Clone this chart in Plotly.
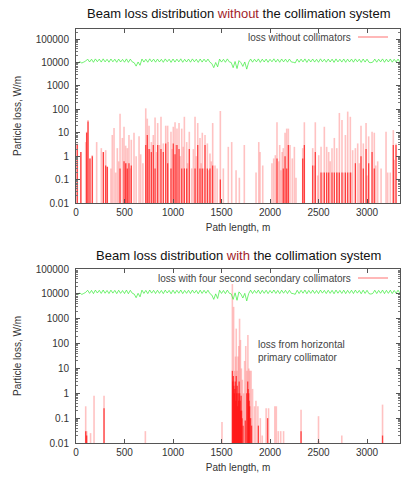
import plotly.graph_objects as go

W, H = 401, 479

# ---------------- data ----------------
green_x = list(range(0, 3341, 20))
green_y = [
    10000, 9200, 10800, 9500, 10400, 11500,
    14000, 10500, 13800, 10200, 14200, 10800, 13900, 10400, 14300, 10600, 13700, 10300,
    14100, 10700, 13800, 10200, 14000, 10500, 13600, 10300, 14200, 10100, 13900, 10600,
    9800, 7000, 10500, 7600,
    14100, 10400, 13800, 10200, 14300, 10700, 13900, 10300, 14000, 10500, 13700, 10200,
    14200, 10800, 13800, 10100, 14100, 10400, 13900, 10600, 14300, 10200, 13700, 10500,
    14000, 10300, 14200, 10700, 13800, 10100, 14100, 10400, 13900, 10600, 14000, 10300,
    9000, 6000, 10000, 6500,
    14000, 10400, 13700, 10200, 14200, 10600,
    10000, 6000, 11000, 5500, 12000, 9800, 6800, 10500, 5200, 10200,
    14100, 10300, 13800, 10600, 14200, 10100, 13900, 10500, 14000, 10200, 13700, 10700,
    14300, 10400, 13800, 10200, 14100, 10600, 13900, 10300, 14000, 10500,
    10200, 9600,
    14000, 10300, 13900, 10600, 14200, 10100, 13800, 10500, 14100, 10400, 13700, 10200,
    14300, 10700, 13800, 10300, 14000, 10500, 13900, 10100, 14200, 10600, 13800, 10400,
    14100, 10200, 13900, 10500, 14000, 10300, 14200, 10700, 13800, 10100, 14100, 10400, 13900,
    10200, 9800, 10400,
    14000, 10300, 13800, 10600, 14200, 10200, 13900, 10500, 14100, 10300, 13700, 10600, 14000, 10400,
]

# loss without collimators (top panel) - light (full height) impulses
top_x = [13, 50, 100, 110, 124, 144, 168, 213, 261, 282, 306, 323, 374, 392, 409, 426, 454, 478,
         495, 512, 529, 546, 570, 598, 650, 667, 719, 735, 753, 777, 797, 815, 842, 876, 900,
         925, 945, 979, 1003, 1021, 1041, 1062, 1090, 1117, 1141, 1168, 1193, 1227, 1255, 1278,
         1302, 1330, 1354, 1381, 1409, 1433, 1488, 1519, 1570, 1605, 1650, 1684, 1735, 1856,
         1884, 1897, 1925, 2038, 2055, 2072, 2090, 2113, 2137, 2155, 2172, 2189, 2206, 2251,
         2268, 2337, 2354, 2440, 2467, 2492, 2502, 2526, 2560, 2584, 2605, 2639, 2663, 2688,
         2715, 2742, 2777, 2801, 2828, 2852, 2880, 2904, 2938, 2962, 2990, 3017, 3052, 3075,
         3110, 3145, 3196, 3213, 3271, 3299,
         360, 440, 520, 560, 620, 690, 760, 830, 860, 950, 990, 1030, 1075, 1105, 1150, 1210,
         1240, 1290, 1320, 1370, 1395, 1455, 2020, 2100, 2125, 2230, 2460, 2545, 2620, 2700,
         2760, 2840, 2920, 3000, 3090, 3240, 3280]
top_y = [3.5, 1.5, 4, 11, 35, 0.8, 1.1, 4, 2.2, 1.5, 1.8, 0.35, 8, 16, 0.2, 2.2, 65, 6,
         18, 2.8, 2.2, 8, 5, 10, 7, 1.2, 110, 40, 20, 4, 8, 45, 26, 48, 3.5,
         20, 20, 11, 18, 28, 15, 26, 15, 48, 4, 11, 0.3, 48, 26, 6,
         10, 8, 3.5, 1.3, 26, 0.4, 85, 0.3, 2.5, 4, 0.25, 0.12, 3, 0.2,
         4, 1.5, 0.4, 0.8, 1.1, 28, 0.6, 0.25, 2.2, 10, 15, 15, 3, 2.5,
         0.12, 2.2, 28, 2.2, 28, 0.15, 1.1, 2.5, 18, 2.5, 1.5, 2.2, 6, 2.2,
         70, 35, 8, 80, 48, 1.8, 2.2, 3.5, 20, 3.5, 26, 7, 11, 10,
         0.6, 0.3, 11, 0.2, 13, 3.5,
         0.3, 0.6, 0.5, 0.3, 1.0, 0.5, 2, 1.5, 3, 4, 2, 3, 1.0, 2.5, 0.5, 2,
         1, 0.5, 0.3, 0.25, 0.6, 0.3, 0.5, 3, 1.5, 0.8, 0.4, 0.2, 0.6, 0.2,
         0.2, 0.2, 0.5, 0.15, 0.4, 0.2, 0.7]
# overlapping (darker) lower parts
top_dark_x = [13, 50, 110, 124, 144, 168, 282, 306, 323, 454, 495, 512, 529, 546, 570, 719, 735,
              753, 777, 797, 815, 842, 876, 900, 925, 945, 979, 1003, 1021, 1041, 1062, 1090,
              1117, 1141, 1168, 1227, 1255, 1278, 1302, 1330, 1354, 1381, 1409, 1488, 2072, 2137,
              2155, 2172, 2189, 2337, 2354, 2440, 2467, 2526, 2560, 2584, 2605, 2639, 2663, 2688,
              2715, 2742, 2777, 2801, 2828, 2880, 2938, 2962, 2990, 3017, 3052, 3075, 3271, 3299]
top_dark_y = [3, 1.5, 10, 30, 0.8, 1.0, 1.5, 0.4, 0.35, 0.3, 0.6, 0.5, 0.3, 0.5, 0.4, 3, 8,
              2, 1.5, 3, 0.3, 3, 2, 1.5, 3.5, 0.5, 0.3, 3.5, 1.2, 3, 2, 0.3,
              0.3, 0.3, 2, 0.3, 3, 0.3, 0.3, 3, 0.3, 0.3, 0.4, 0.1, 0.8, 0.3,
              1, 0.3, 3, 0.8, 3, 0.4, 1.5, 0.2, 0.2, 0.2, 0.2, 0.2, 0.2, 0.2,
              0.2, 0.2, 0.2, 0.2, 0.2, 0.5, 1, 0.3, 2, 0.5, 1.5, 0.3, 3, 3]

# loss with four second secondary collimators (bottom panel)
bot_x = [100, 110, 150, 186, 289, 715, 1505, 1612, 1625, 1635, 1645, 1652, 1660, 1670, 1678,
         1686, 1695, 1705, 1715, 1728, 1738, 1750, 1762, 1772, 1782, 1792, 1805, 1820, 1840,
         1855, 1875, 1900, 1920, 1960, 1985, 2050, 2065, 2085, 2110, 2140, 2320, 2500, 2740, 3160]
bot_y = [0.3, 0.03, 0.025, 0.8, 0.8, 0.03, 0.07, 25000, 3000, 8, 30, 400, 8, 30, 80,
         1000, 140, 10, 3.5, 1, 20, 80, 8, 220, 10, 8, 8, 1.5, 0.3,
         0.5, 0.3, 0.1, 0.02, 0.25, 0.25, 0.3, 0.3, 0.03, 0.03, 0.03, 0.22, 0.12, 0.02, 0.35]
bot_dark_x = [100, 110, 289, 1612, 1617, 1622, 1627, 1632, 1637, 1642, 1647, 1652, 1657, 1662,
              1667, 1672, 1677, 1682, 1687, 1692, 1697, 1702, 1707, 1712, 1722, 1745, 1760, 1770,
              1775, 1780, 1785, 1790, 1800, 1810, 1880, 1975, 2320, 2500, 3160]
bot_dark_y = [0.03, 0.02, 0.25, 8, 3, 5, 2, 1, 1.5, 3, 0.5, 5, 1, 2,
              0.3, 1, 0.5, 3, 1, 0.5, 0.2, 0.8, 0.2, 0.1, 0.05, 0.08, 1, 3,
              1.5, 1, 0.5, 0.3, 0.1, 0.05, 0.05, 0.1, 0.03, 0.012, 0.02]

y_tickvals = [0.01, 0.1, 1, 10, 100, 1000, 10000, 100000]
y_ticktext = ["0.01", "0.1", "1", "10", "100", "1000", "10000", "100000"]
x_tickvals = [0, 500, 1000, 1500, 2000, 2500, 3000]

# ---------------- figure ----------------
LIGHT = "rgba(255,120,120,0.45)"
DARK = "rgba(255,20,20,0.75)"
GREEN = "rgba(60,235,60,0.8)"
FONT = "Liberation Sans, Arial, sans-serif"


def impulses(xs, ys, floor=1e-4):
    X, Y = [], []
    for x, y in zip(xs, ys):
        X += [x, x, None]
        Y += [floor, y, None]
    return X, Y


fig = go.Figure()
for xa, ya, lx, ly, dx, dy in [("x", "y", top_x, top_y, top_dark_x, top_dark_y),
                               ("x2", "y2", bot_x, bot_y, bot_dark_x, bot_dark_y)]:
    X, Y = impulses(lx, ly)
    fig.add_trace(go.Scatter(x=X, y=Y, mode="lines", line=dict(color=LIGHT, width=1.6),
                             xaxis=xa, yaxis=ya, showlegend=False, hoverinfo="skip"))
    X, Y = impulses(dx, dy)
    fig.add_trace(go.Scatter(x=X, y=Y, mode="lines", line=dict(color=DARK, width=1.3),
                             xaxis=xa, yaxis=ya, showlegend=False, hoverinfo="skip"))
    fig.add_trace(go.Scatter(x=green_x, y=green_y, mode="lines", line=dict(color=GREEN, width=0.9),
                             xaxis=xa, yaxis=ya, showlegend=False, hoverinfo="skip"))


def px(v):
    return v / W


def py(v):
    return 1 - v / H


axis_common = dict(showline=True, linecolor="#555", linewidth=1, mirror="ticks", ticks="inside",
                   ticklen=4, tickcolor="#555", showgrid=False, zeroline=False, automargin=False,
                   tickfont=dict(family=FONT, size=10, color="#333"))

xdom = [px(76), px(400)]
fig.update_layout(
    width=W, height=H, margin=dict(l=0, r=0, t=0, b=0, autoexpand=False),
    paper_bgcolor="white", plot_bgcolor="white", showlegend=False,
    font=dict(family=FONT, color="#333"),
    xaxis=dict(domain=xdom, range=[0, 3340], tickvals=x_tickvals, anchor="y", **axis_common,
               title=dict(text="Path length, m", font=dict(size=10, color="#333"), standoff=6)),
    yaxis=dict(domain=[py(203), py(29)], type="log", range=[-2, 5.43], tickvals=y_tickvals,
               ticktext=y_ticktext, anchor="x", ticklabelstandoff=4, **axis_common,
               minor=dict(ticks="inside", ticklen=2, tickcolor="#777", dtick="D1"),
               title=dict(text="Particle loss, W/m", font=dict(size=10, color="#333"), standoff=12)),
    xaxis2=dict(domain=xdom, range=[0, 3340], tickvals=x_tickvals, anchor="y2", **axis_common,
                title=dict(text="Path length, m", font=dict(size=10, color="#333"), standoff=6)),
    yaxis2=dict(domain=[py(443), py(269)], type="log", range=[-2, 5], tickvals=y_tickvals,
                ticktext=y_ticktext, anchor="x2", ticklabelstandoff=4, **axis_common,
                minor=dict(ticks="inside", ticklen=2, tickcolor="#777", dtick="D1"),
                title=dict(text="Particle loss, W/m", font=dict(size=10, color="#333"), standoff=12)),
)

ann = []
ann.append(dict(x=px(238), y=py(13), xref="paper", yref="paper", showarrow=False,
                text="Beam loss distribution <span style='color:#a31d2b'>without</span> the collimation system",
                font=dict(family=FONT, size=13, color="#111"), xanchor="center", yanchor="middle"))
ann.append(dict(x=px(238), y=py(256), xref="paper", yref="paper", showarrow=False,
                text="Beam loss distribution <span style='color:#a31d2b'>with</span> the collimation system",
                font=dict(family=FONT, size=13, color="#111"), xanchor="center", yanchor="middle"))
ann.append(dict(x=px(353), y=py(37), xref="paper", yref="paper", showarrow=False,
                text="loss without collimators", font=dict(family=FONT, size=10, color="#444"),
                xanchor="right", yanchor="middle"))
ann.append(dict(x=px(353), y=py(278), xref="paper", yref="paper", showarrow=False,
                text="loss with four second secondary collimators", font=dict(family=FONT, size=10, color="#444"),
                xanchor="right", yanchor="middle"))
ann.append(dict(x=px(256), y=py(351), xref="paper", yref="paper", showarrow=False, align="left",
                text="loss from horizontal<br>primary collimator", font=dict(family=FONT, size=10, color="#444"),
                xanchor="left", yanchor="middle"))
fig.update_layout(annotations=ann)

shapes = []
for yy in (37, 278):
    shapes.append(dict(type="line", xref="paper", yref="paper", x0=px(358), x1=px(388),
                       y0=py(yy), y1=py(yy), line=dict(color="rgba(255,120,120,0.7)", width=1.5)))
fig.update_layout(shapes=shapes)

fig.write_html("out.html", config={"displayModeBar": False},
               post_script="document.body.style.margin='0px';")
